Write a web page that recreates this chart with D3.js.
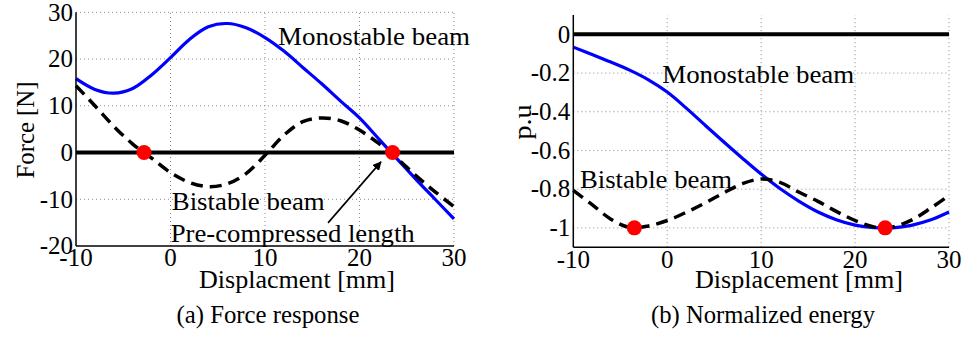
<!DOCTYPE html>
<html><head><meta charset="utf-8">
<script src="https://cdn.jsdelivr.net/npm/d3@7"></script>
<style>body{margin:0;background:#fff}svg{display:block}text{font-family:"Liberation Serif","Times New Roman",serif;fill:#000}</style>
</head><body><svg id="c" width="976" height="337"></svg>
<script>
// ---------- data ----------
const displacement = [-10,-8,-6,-4,-2,0,2,4,6,8,10,12,14,16,18,20,22,24,26,28,30];
const forceMonostable = [15.8,13.5,12.7,13.7,16.6,20.3,24.2,26.9,27.6,26.7,24.6,21.7,18.2,14.7,11.0,7.4,3.0,-1.4,-5.8,-10.0,-14.2];
const forceBistable   = [14.3,10.0,5.6,1.8,-1.2,-4.3,-6.4,-7.3,-6.7,-4.5,-0.6,3.7,6.6,7.4,6.8,4.8,2.0,-1.3,-5.0,-8.4,-11.6];
const energyMonostable = [-0.066,-0.104,-0.143,-0.185,-0.235,-0.298,-0.380,-0.468,-0.555,-0.640,-0.722,-0.797,-0.862,-0.917,-0.958,-0.986,-0.999,-1.0,-0.987,-0.960,-0.918];
const energyBistable   = [-0.806,-0.880,-0.955,-0.998,-0.990,-0.962,-0.920,-0.872,-0.820,-0.772,-0.748,-0.765,-0.815,-0.862,-0.915,-0.962,-0.995,-0.995,-0.960,-0.900,-0.832];
const forceEquilibria  = [[-2.8,0],[23.5,0]];
const energyEquilibria = [[-3.5,-1],[23.2,-1]];
const xTicks = [-10,0,10,20,30];
const forceTicks = [-20,-10,0,10,20,30];
const energyTicks = [-1,-0.8,-0.6,-0.4,-0.2,0];
const energyTickLabels = ["-1","-0.8","-0.6","-0.4","-0.2","0"];

const svg = d3.select("#c");
const blue = "#0000ff", red = "#ff0000";

function panel(o){
  const g = svg.append("g");
  const x = d3.scaleLinear().domain([-10,30]).range(o.xr);
  const y = d3.scaleLinear().domain(o.yd).range(o.yr);
  // grid
  xTicks.filter(t=>t>-10).forEach(t=>{
    g.append("line").attr("x1",x(t)).attr("x2",x(t)).attr("y1",o.yr[0]).attr("y2",o.yr[1])
     .attr("stroke","#8a8a8a").attr("stroke-width",1).attr("stroke-dasharray","1,3");
  });
  o.yt.filter(t=>y(t)<o.yr[0]-1).forEach(t=>{
    g.append("line").attr("x1",o.xr[0]).attr("x2",o.xr[1]).attr("y1",y(t)).attr("y2",y(t))
     .attr("stroke","#8a8a8a").attr("stroke-width",1).attr("stroke-dasharray","1,3");
  });
  // zero reference
  g.append("path").datum([[-10,0],[30,0]])
   .attr("d",d3.line().x(d=>x(d[0])).y(d=>y(d[1])))
   .attr("stroke","#000").attr("stroke-width",4).attr("fill","none");
  const line = d3.line().x((d,i)=>x(displacement[i])).y(d=>y(d)).curve(d3.curveCatmullRom.alpha(0.5));
  g.append("path").datum(o.mono).attr("d",line).attr("fill","none").attr("stroke",blue).attr("stroke-width",3.2);
  g.append("path").datum(o.bi).attr("d",line).attr("fill","none").attr("stroke","#000").attr("stroke-width",3.5).attr("stroke-dasharray","12,7");
  // axes lines
  g.append("line").attr("x1",o.xr[0]).attr("x2",o.xr[0]).attr("y1",o.yr[0]).attr("y2",o.yr[1]).attr("stroke","#000").attr("stroke-width",1.5);
  g.append("line").attr("x1",o.xr[0]).attr("x2",o.xr[1]).attr("y1",o.yr[0]).attr("y2",o.yr[0]).attr("stroke","#000").attr("stroke-width",1.5);
  // tick labels
  xTicks.forEach(t=>{
    g.append("text").attr("x",x(t)).attr("y",o.xtY).attr("text-anchor","middle").attr("font-size",25).text(t);
  });
  o.yt.forEach((t,i)=>{
    g.append("text").attr("x",o.xr[0]-3).attr("y",y(t)).attr("dy","0.33em").attr("text-anchor","end").attr("font-size",25).text(o.ytl[i]);
  });
  // points
  g.selectAll("circle.eq").data(o.eq).enter().append("circle").attr("cx",d=>x(d[0])).attr("cy",d=>y(d[1])).attr("r",7.5).attr("fill",red);
  return {g,x,y};
}

const A = panel({xr:[76,454], yd:[-20,30], yr:[246,12.3], yt:forceTicks, ytl:forceTicks.map(String),
  mono:forceMonostable, bi:forceBistable, eq:forceEquilibria, xtY:266});
const B = panel({xr:[573.3,949], yd:[-1.1,0.1], yr:[247.2,15], yt:energyTicks, ytl:energyTickLabels,
  mono:energyMonostable, bi:energyBistable, eq:energyEquilibria, xtY:268});

function label(p, txt, dx, dy, w){
  p.g.append("text").attr("x",p.x(dx)).attr("y",p.y(dy)).attr("font-size",25)
   .attr("textLength",w).attr("lengthAdjust","spacingAndGlyphs").text(txt);
}
label(A,"Monostable beam",11.38,22.9,192);
label(A,"Bistable beam",0.13,-12.3,153);
label(A,"Pre-compressed length",0.02,-19.2,244);
label(B,"Monostable beam",-0.53,-0.25,192);
label(B,"Bistable beam",-9.29,-0.792,152);

// arrow
svg.append("defs").append("marker").attr("id","ah").attr("viewBox","0 0 10 10").attr("refX",9).attr("refY",5)
  .attr("markerWidth",9).attr("markerHeight",9).attr("markerUnits","userSpaceOnUse").attr("orient","auto")
  .append("path").attr("d","M0,0 L10,5 L0,10 z").attr("fill","#000");
A.g.append("line").attr("x1",A.x(16.67)).attr("y1",A.y(-15.05)).attr("x2",A.x(22.27)).attr("y2",A.y(-2.0))
  .attr("stroke","#000").attr("stroke-width",1.6).attr("marker-end","url(#ah)");

// axis titles and captions
function t(x,y,txt,w,rot){
  const e = svg.append("text").attr("text-anchor","middle").attr("font-size",25)
    .attr("textLength",w).attr("lengthAdjust","spacingAndGlyphs").text(txt);
  if(rot){ e.attr("transform",`translate(${x},${y}) rotate(-90)`); }
  else e.attr("x",x).attr("y",y);
}
t(297,287.5,"Displacment [mm]",196);
t(268,323,"(a) Force response",183);
t(799,288,"Displacement [mm]",208);
t(763,322.7,"(b) Normalized energy",224);
t(34,130,"Force [N]",97,true);
t(531,122,"p.u",35,true);
</script></body></html>
